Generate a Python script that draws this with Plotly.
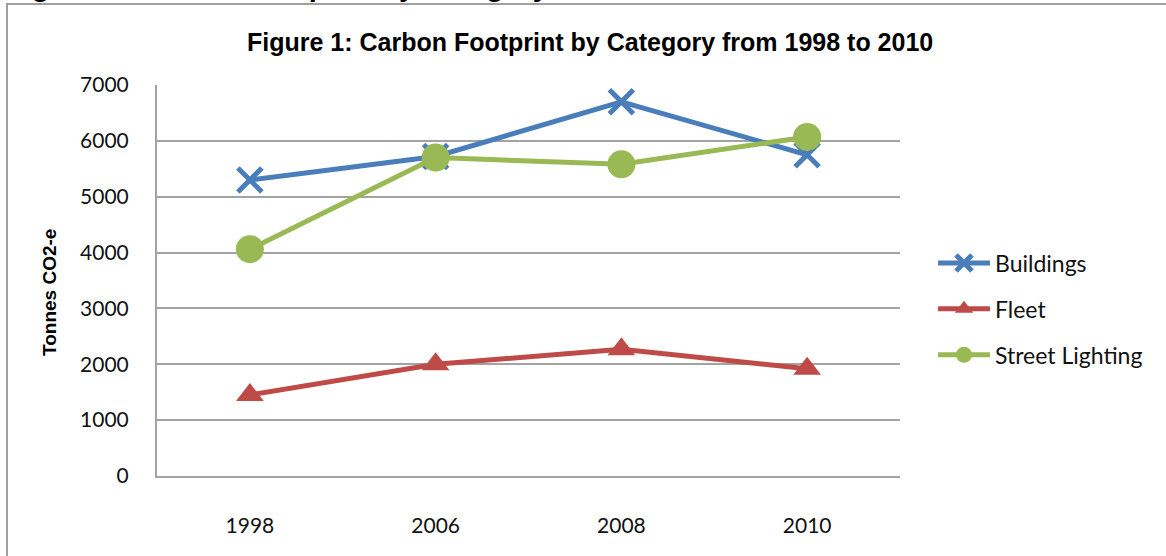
import plotly.graph_objects as go

# Carbon footprint (tonnes CO2-e) per category and reporting year
years = ["1998", "2006", "2008", "2010"]
buildings = [5300, 5720, 6700, 5750]
fleet = [1450, 2000, 2270, 1920]
street_lighting = [4060, 5700, 5580, 6070]

y_ticks = [0, 1000, 2000, 3000, 4000, 5000, 6000, 7000]

title_text = "Figure 1: Carbon Footprint by Category from 1998 to 2010"
y_title = "Tonnes CO2-e"

W, H = 1166, 556
L, R, T, B = 157, 266, 85, 80
pw, ph = W - L - R, H - T - B


def px_x(x):
    return (x - L) / pw


def px_y(y):
    return 1 + (T - y) / ph


BLUE = "#4a7ebb"
RED = "#be4b48"
GREEN = "#98b954"
GRID = "#a3a3a3"
TICK_FONT = dict(family="Lato", size=21, color="#111111")

fig = go.Figure()

fig.add_trace(go.Scatter(
    x=years, y=buildings, name="Buildings", mode="lines+markers",
    legendgroup="b",
    line=dict(color=BLUE, width=5),
    marker=dict(symbol="x-thin", size=24, color=BLUE,
                line=dict(color=BLUE, width=5)),
))
fig.add_trace(go.Scatter(
    x=years, y=fleet, name="Fleet", mode="lines+markers",
    legendgroup="f",
    line=dict(color=RED, width=5),
    marker=dict(symbol="triangle-up", size=24, color=RED),
))
fig.add_trace(go.Scatter(
    x=years, y=street_lighting, name="Street Lighting", mode="lines+markers",
    legendgroup="s",
    line=dict(color=GREEN, width=5),
    marker=dict(symbol="circle", size=28, color=GREEN),
))

fig.update_layout(
    width=W, height=H,
    margin=dict(l=L, r=R, t=T, b=B),
    paper_bgcolor="white",
    plot_bgcolor="white",
    showlegend=True,
    legend=dict(
        x=px_x(933), xanchor="left",
        y=1 - (309 - T) / ph, yanchor="middle",
        font=dict(family="Lato", size=23, color="#111111"),
        tracegroupgap=13,
        itemwidth=52,
        bgcolor="rgba(0,0,0,0)",
    ),
    xaxis=dict(
        type="category", range=[-0.5, 3.5],
        showgrid=False, showline=True, linecolor=GRID, linewidth=2,
        ticks="", tickfont=TICK_FONT, ticklabelstandoff=30,
    ),
    yaxis=dict(
        range=[0, 7000], tickvals=y_ticks,
        showgrid=True, gridcolor=GRID, gridwidth=2,
        showline=True, linecolor=GRID, linewidth=2, zeroline=False,
        ticks="", tickfont=TICK_FONT, ticklabelstandoff=22,
    ),
    shapes=[
        # outer frame of the chart area
        dict(type="rect", xref="paper", yref="paper",
             x0=px_x(7), y0=px_y(700), x1=px_x(1300), y1=px_y(4),
             line=dict(color="#a0a0a0", width=2), fillcolor="rgba(0,0,0,0)",
             layer="below"),
    ],
    annotations=[
        dict(text=title_text, xref="paper", yref="paper",
             x=px_x(590), y=px_y(42), xanchor="center", yanchor="middle",
             showarrow=False,
             font=dict(family="Liberation Sans", size=25, color="#000000",
                       weight="bold")),
        dict(text=y_title, xref="paper", yref="paper",
             x=px_x(49), y=px_y(293), xanchor="center", yanchor="middle",
             textangle=-90, showarrow=False,
             font=dict(family="Liberation Sans", size=19, color="#000000",
                       weight="bold")),
        # heading line of the page above the chart frame
        dict(text=title_text, xref="paper", yref="paper",
             x=px_x(5), y=px_y(3), xanchor="left", yanchor="bottom",
             showarrow=False, borderpad=0,
             font=dict(family="Liberation Sans", size=29, color="#000000",
                       weight="bold")),
    ],
)

fig.write_html("out.html")
